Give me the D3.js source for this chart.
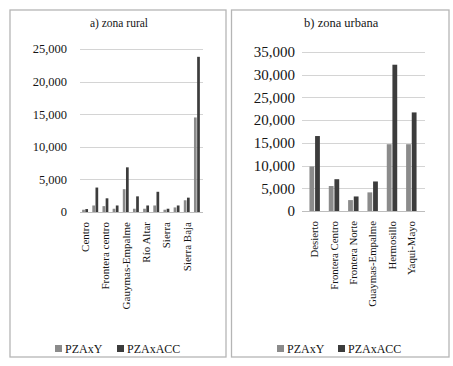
<!DOCTYPE html>
<html>
<head>
<meta charset="utf-8">
<script src="https://cdn.jsdelivr.net/npm/d3@7"></script>
<style>
  body { margin: 0; background: #fff; }
</style>
</head>
<body>
<div id="chart"></div>
<script>
// data
var series = ["PZAxY", "PZAxACC"];

var ruralCats = ["Centro", "Desierto", "Frontera centro", "Frontera norte", "Gauymas-Empalme",
  "Hermosillo", "Río Altar", "Río Sonora", "Sierra", "Sierra Alta", "Sierra Baja", "Yaqui-Mayo"];
var ruralPZAxY   = [350, 1000, 900, 500, 3500, 500, 500, 1000, 350, 700, 1800, 14500];
var ruralPZAxACC = [450, 3750, 2100, 1000, 6850, 2400, 1000, 3100, 500, 1000, 2200, 23800];
var ruralTicks = [0, 5000, 10000, 15000, 20000, 25000];

var urbanCats = ["Desierto", "Frontera Centro", "Frontera Norte", "Guaymas-Empalme", "Hermosillo", "Yaqui-Mayo"];
var urbanPZAxY   = [9800, 5500, 2400, 4100, 14700, 14700];
var urbanPZAxACC = [16500, 7000, 3200, 6500, 32200, 21700];
var urbanTicks = [0, 5000, 10000, 15000, 20000, 25000, 30000, 35000];

var colors = {"PZAxY": "#8b8b8b", "PZAxACC": "#3c3c3c"};
var fmt = d3.format(",");
var serif = "'Liberation Serif', 'DejaVu Serif', 'Times New Roman', serif";
var ink = "#151515";

var svg = d3.select("#chart").append("svg")
  .attr("width", 453)
  .attr("height", 366)
  .attr("font-family", serif)
  .style("font-family", serif);

//////////////////////////
// one panel
//////////////////////////
function panel(o) {
  var g = svg.append("g");

  // border
  g.append("rect")
    .attr("x", o.box[0]).attr("y", o.box[1])
    .attr("width", o.box[2]).attr("height", o.box[3])
    .attr("fill", "none")
    .attr("stroke", "#b5b5b5")
    .attr("stroke-width", 1.3);

  // title
  g.append("text")
    .attr("x", o.box[0] + o.box[2] / 2 + 1)
    .attr("y", 27)
    .attr("text-anchor", "middle")
    .attr("fill", ink)
    .style("font-size", o.titleSize + "px")
    .text(o.title);

  // scales
  var y = d3.scaleLinear().domain(d3.extent(o.ticks)).range([o.y0, o.y1]);
  var x0 = d3.scaleBand().domain(o.cats).range(o.xr).paddingInner(o.pad).paddingOuter(o.pad / 2);
  var x1 = d3.scaleBand().domain(series).range([0, x0.bandwidth()]).paddingInner(0.15);

  // gridlines
  g.selectAll("line.grid")
    .data(o.ticks)
    .enter().append("line")
    .attr("class", "grid")
    .attr("x1", o.grid[0]).attr("x2", o.grid[1])
    .attr("y1", function(d) { return Math.round(y(d)) + 0.5; })
    .attr("y2", function(d) { return Math.round(y(d)) + 0.5; })
    .attr("stroke", function(d) { return d === 0 ? "#bdbdbd" : "#d4d4d4"; })
    .attr("stroke-width", 1.2);

  // tick labels
  g.selectAll("text.tick")
    .data(o.ticks)
    .enter().append("text")
    .attr("class", "tick")
    .attr("x", o.tickX)
    .attr("y", function(d) { return y(d); })
    .attr("dy", "0.35em")
    .attr("text-anchor", "end")
    .attr("fill", ink)
    .style("font-size", o.tickSize + "px")
    .text(fmt);

  // bars
  var rows = o.cats.map(function(c, i) {
    return {cat: c, vals: [o.a[i], o.b[i]]};
  });
  var grp = g.selectAll("g.cat")
    .data(rows)
    .enter().append("g")
    .attr("class", "cat")
    .attr("transform", function(d) { return "translate(" + x0(d.cat) + ",0)"; });
  grp.selectAll("rect")
    .data(function(d) { return d.vals.map(function(v, j) { return {s: series[j], v: v}; }); })
    .enter().append("rect")
    .attr("x", function(d) { return x1(d.s); })
    .attr("width", x1.bandwidth())
    .attr("y", function(d) { return y(d.v); })
    .attr("height", function(d) { return y(0) - y(d.v); })
    .attr("fill", function(d) { return colors[d.s]; });

  // category labels (rotated)
  g.selectAll("text.cat")
    .data(o.cats.filter(function(c, i) { return i % o.every === 0; }))
    .enter().append("text")
    .attr("class", "cat")
    .attr("transform", function(d) {
      return "translate(" + (x0(d) + x0.bandwidth() / 2) + "," + o.labelY + ") rotate(-90)";
    })
    .attr("dy", "0.35em")
    .attr("text-anchor", "end")
    .attr("fill", ink)
    .style("font-size", o.catSize + "px")
    .text(function(d) { return d; });

  // legend
  var lg = g.append("g").attr("transform", "translate(" + o.legX + ",349)");
  var items = lg.selectAll("g")
    .data(series)
    .enter().append("g")
    .attr("transform", function(d, i) { return "translate(" + (i * o.legGap) + ",0)"; });
  items.append("rect")
    .attr("x", 0).attr("y", -4)
    .attr("width", 7).attr("height", 7)
    .attr("fill", function(d) { return colors[d]; });
  items.append("text")
    .attr("x", 10)
    .attr("y", 0)
    .attr("dy", "0.35em")
    .attr("fill", ink)
    .style("font-size", "12px")
    .text(function(d) { return d; });
}

panel({
  box: [10, 10, 216, 347], title: "a) zona rural", titleSize: 11.5,
  cats: ruralCats, a: ruralPZAxY, b: ruralPZAxACC, ticks: ruralTicks,
  y0: 212, y1: 49, xr: [80, 202], pad: 0.42, grid: [80, 203],
  tickX: 67, tickSize: 12.5, labelY: 222, catSize: 11, every: 2,
  legX: 55, legGap: 62
});

panel({
  box: [231.5, 10, 217.5, 347], title: "b) zona urbana", titleSize: 12.5,
  cats: urbanCats, a: urbanPZAxY, b: urbanPZAxACC, ticks: urbanTicks,
  y0: 211, y1: 52, xr: [305, 421], pad: 0.46, grid: [302, 425],
  tickX: 295, tickSize: 15, labelY: 221, catSize: 10.8, every: 1,
  legX: 277, legGap: 61
});
</script>
</body>
</html>
